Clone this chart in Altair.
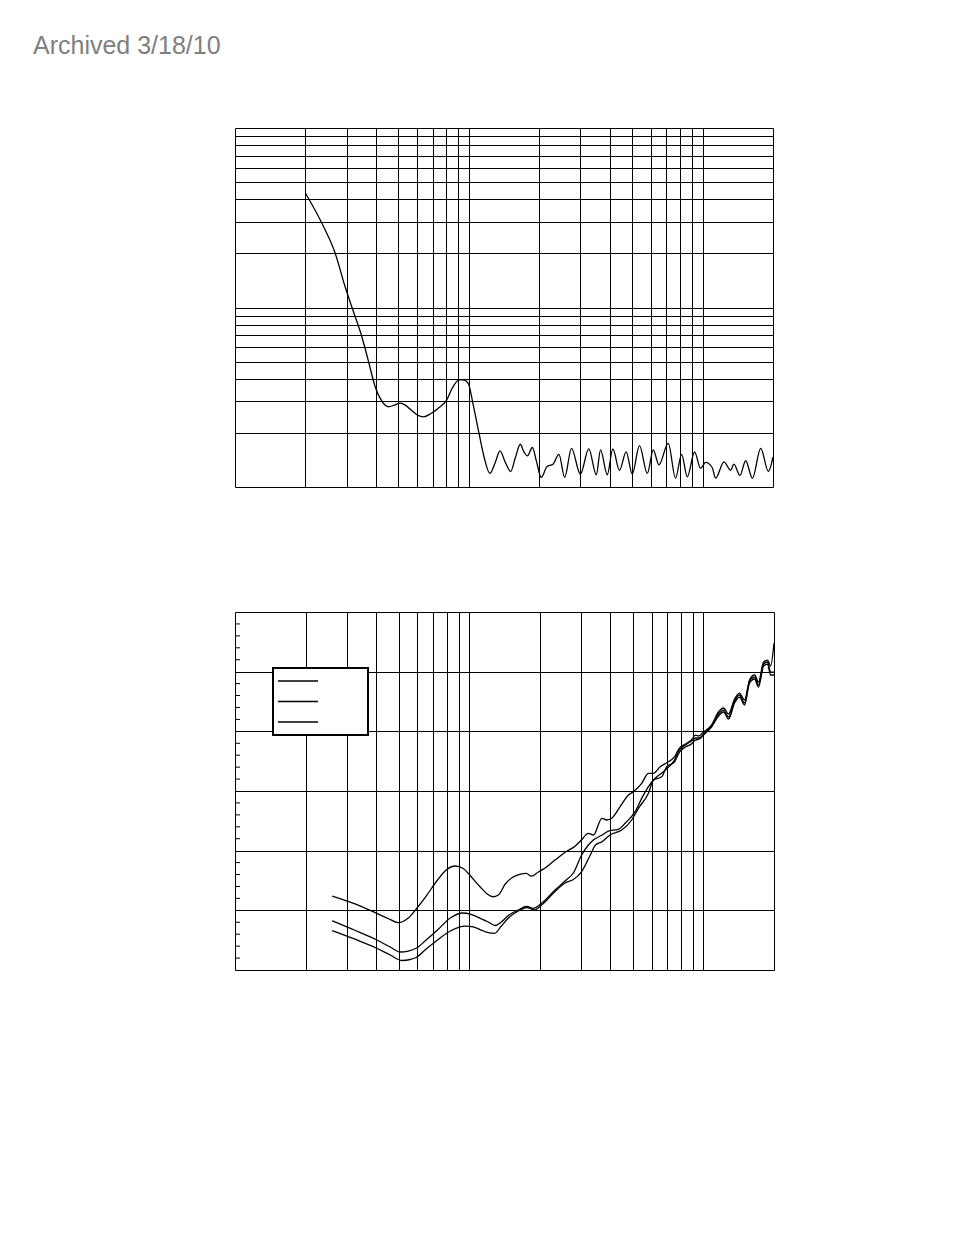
import altair as alt
import pandas as pd

ARCHIVE_NOTE = "Archived 3/18/10"

# shared log frequency grid (decade 10..100..1000..2000)
freq_grid = [20, 30, 40, 50, 60, 70, 80, 90, 100, 200, 300, 400, 500, 600, 700, 800, 900, 1000]
top_mag_grid = [2, 3, 4, 5, 6, 7, 8, 9, 10, 20, 30, 40, 50, 60, 70, 80, 90]
bottom_level_grid = [10, 20, 30, 40, 50]
bottom_minor_level = [2, 4, 6, 8, 12, 14, 16, 18, 22, 24, 26, 28, 32, 34, 36, 38,
                      42, 44, 46, 48, 52, 54, 56, 58]

# upper chart curve
top_freq = [20, 23.5, 26.8, 29.6, 32.7, 34.5, 37.1, 39.8, 42.2, 45.5,
            48, 50.9, 53.5, 56.5, 60.2, 64, 68.4, 74, 80.4, 85,
            91, 94.7, 99.4, 104.5, 110.5, 116.5, 123, 130, 136, 143,
            151, 158, 166, 172, 178, 187, 195, 204, 216, 229,
            243, 257, 275, 300, 326, 351, 366, 391, 413, 441,
            471, 500, 537, 580, 615, 650, 713, 766, 813, 860,
            924, 980, 1030, 1100, 1137, 1234, 1318, 1361, 1444, 1528,
            1633, 1772, 1911, 2000]
top_mag = [43.45, 29.57, 20.12, 13.01, 8.85, 7.21, 5.10, 3.61, 3.05, 2.80,
           2.86, 2.93, 2.86, 2.69, 2.52, 2.46, 2.55, 2.75, 3.05, 3.56,
           3.95, 3.95, 3.78, 2.86, 2.00, 1.45, 1.19, 1.38, 1.59, 1.38,
           1.22, 1.45, 1.73, 1.57, 1.49, 1.66, 1.38, 1.13, 1.30, 1.34,
           1.52, 1.13, 1.64, 1.18, 1.63, 1.17, 1.61, 1.17, 1.63, 1.24,
           1.57, 1.18, 1.70, 1.19, 1.61, 1.33, 1.75, 1.12, 1.52, 1.14,
           1.57, 1.27, 1.37, 1.28, 1.12, 1.38, 1.24, 1.34, 1.16, 1.40,
           1.12, 1.64, 1.22, 1.47]

# lower chart curves
freq_a = [26.0, 32.3, 40.3, 45.1, 49.7, 54.9, 60.3, 65.5, 73.2, 79.7,
          87.1, 94.3, 100.4, 111.4, 119.4, 126.2, 133, 142.5, 152.7, 164.2,
          175.2, 184.1, 197.2, 210, 232.4, 259.7, 283.8, 301.1, 322.5, 338.8,
          368.4, 386.3, 405.7, 440.6, 478.1, 502.2, 544.9, 582.1, 611.4, 653.1,
          696.8, 751.7, 789.6, 837.7, 888.5, 924.3, 951.9, 1000, 1082, 1159,
          1218, 1279, 1357, 1425, 1497, 1573, 1652, 1718, 1805, 1877,
          1934, 2000]
level_a = [12.40, 11.14, 9.50, 8.63, 7.93, 8.71, 10.56, 12.40, 15.08, 16.76,
           17.43, 17.01, 15.92, 13.91, 12.74, 12.28, 12.57, 14.41, 15.50, 16.04,
           16.21, 15.75, 16.42, 17.04, 18.43, 19.86, 20.78, 21.79, 22.91, 22.62,
           25.42, 25.14, 25.42, 27.37, 29.33, 29.88, 31.29, 32.96, 32.96, 34.07,
           34.74, 35.70, 37.20, 37.88, 38.55, 39.38, 39.22, 39.89, 41.06, 43.24,
           43.91, 42.90, 45.42, 46.42, 45.25, 48.60, 49.44, 48.27, 51.62, 51.95,
           50.95, 54.80]

freq_b = [26.0, 32.3, 40.3, 46.0, 50.7, 54.9, 59.3, 65.5, 73.2, 83.0,
          93.6, 101, 111.4, 120.6, 129.2, 137.0, 146.8, 162.0, 175.6, 187.7,
          203.7, 232.4, 256.4, 278.2, 302, 322.5, 338.8, 369, 392.6, 433.4,
          462.8, 510.6, 544.9, 582.1, 621.7, 674.6, 751.7, 789.6, 837.7, 888.5,
          924.3, 961.3, 1000, 1082, 1159, 1218, 1279, 1357, 1425, 1497,
          1573, 1652, 1718, 1805, 1877, 1934, 2000]
level_b = [8.26, 6.70, 5.03, 3.85, 3.02, 3.18, 3.64, 5.03, 6.70, 8.71,
           9.55, 9.38, 8.66, 8.04, 7.46, 8.04, 9.13, 10.06, 10.64, 10.34,
           11.18, 13.41, 14.92, 16.26, 19.27, 20.95, 21.79, 22.62, 23.29, 23.58,
           24.59, 26.53, 28.77, 30.72, 32.13, 33.23, 35.19, 36.87, 37.71, 38.38,
           38.88, 38.88, 39.55, 40.89, 42.90, 43.57, 42.40, 45.08, 46.09, 44.75,
           48.43, 49.10, 47.76, 51.28, 51.62, 49.94, 49.94]

freq_c = [26.0, 32.3, 40.3, 46.0, 51.7, 56.0, 59.3, 65.5, 73.2, 83.0,
          96.1, 104, 112.5, 120.6, 128.4, 137.0, 147.8, 162.0, 176, 189.6,
          203.7, 232.4, 256.4, 278.2, 301.1, 331.9, 345.6, 369, 399.3, 447.6,
          493.9, 527.5, 582.1, 611.4, 663.4, 696.8, 751.7, 789.6, 837.7, 888.5,
          924.3, 961.3, 1000, 1082, 1159, 1218, 1279, 1357, 1425, 1497,
          1573, 1652, 1718, 1805, 1877, 1934, 2000]
level_c = [6.59, 5.20, 3.64, 2.51, 1.59, 1.76, 2.09, 3.52, 5.03, 6.54,
           7.37, 7.21, 6.70, 6.25, 6.15, 7.37, 8.80, 9.89, 10.47, 10.06,
           10.89, 13.16, 14.58, 15.17, 16.42, 19.61, 20.95, 21.50, 22.62, 23.46,
           25.14, 27.10, 29.61, 31.84, 32.39, 34.07, 34.86, 36.53, 37.37, 37.88,
           38.55, 38.71, 39.38, 40.72, 42.57, 43.24, 42.06, 44.75, 45.75, 44.41,
           48.10, 48.77, 47.43, 50.95, 51.28, 49.44, 49.44]

series_names = ["1", "2", "3"]

top_df = pd.DataFrame({"freq": top_freq, "mag": top_mag})
rows = []
for name, fs, ls in zip(series_names, [freq_a, freq_b, freq_c], [level_a, level_b, level_c]):
    for f, l in zip(fs, ls):
        rows.append({"series": name, "freq": f, "level": l})
bottom_df = pd.DataFrame(rows)
minor_df = pd.DataFrame({"level": bottom_minor_level})

grid_axis = dict(grid=True, gridColor="black", gridWidth=1, gridOpacity=1,
                 labels=False, ticks=False, domain=False, title=None)

freq_scale = alt.Scale(type="log", domain=[10, 2000], nice=False)

top = alt.Chart(top_df).mark_line(
    color="black", strokeWidth=1.3, interpolate="monotone", clip=True
).encode(
    x=alt.X("freq:Q", scale=freq_scale, axis=alt.Axis(values=freq_grid, **grid_axis)),
    y=alt.Y("mag:Q", scale=alt.Scale(type="log", domain=[1, 100], nice=False),
            axis=alt.Axis(values=top_mag_grid, **grid_axis)),
).properties(width=538, height=359)

level_scale = alt.Scale(domain=[0, 60], nice=False, zero=False)
level_axis = alt.Axis(values=bottom_level_grid, grid=True, gridColor="black", gridWidth=1,
                      gridOpacity=1, labels=False, ticks=False, domain=False, title=None)

lines = alt.Chart(bottom_df).mark_line(
    strokeWidth=1.3, interpolate="monotone", clip=True
).encode(
    x=alt.X("freq:Q", scale=freq_scale, axis=alt.Axis(values=freq_grid, **grid_axis)),
    y=alt.Y("level:Q", scale=level_scale, axis=level_axis),
    color=alt.Color(
        "series:N",
        scale=alt.Scale(domain=series_names, range=["black", "black", "black"]),
        legend=alt.Legend(
            orient="none", legendX=38, legendY=56, title=None, labelExpr="''",
            symbolType="M-10,0H10", symbolSize=16, symbolStrokeWidth=1.3,
            symbolStrokeColor="black", symbolFillColor="transparent",
            strokeColor="black", fillColor="white", padding=6,
            labelFontSize=14, rowPadding=6.5, symbolOffset=12, labelOffset=57,
        ),
    ),
)

minor_ticks = alt.Chart(minor_df).mark_rule(color="black", strokeWidth=1).encode(
    y=alt.Y("level:Q", scale=level_scale, axis=level_axis),
    x=alt.value(0),
    x2=alt.value(5),
)

bottom = alt.layer(lines, minor_ticks).properties(width=539, height=358)

chart = alt.vconcat(top, bottom, spacing=123).resolve_scale(
    x="independent", y="independent", color="independent"
).properties(
    title=alt.TitleParams(ARCHIVE_NOTE, anchor="start", fontSize=25, font="Liberation Sans",
                          fontWeight="normal", color="#808080", dx=-201, offset=69),
    padding={"left": 25, "top": 25, "right": 5, "bottom": 5},
    background="white",
).configure_view(stroke="black", strokeWidth=1).configure_legend(strokeWidth=2)

chart.save("out.html", embed_options={"renderer": "svg", "actions": False})
